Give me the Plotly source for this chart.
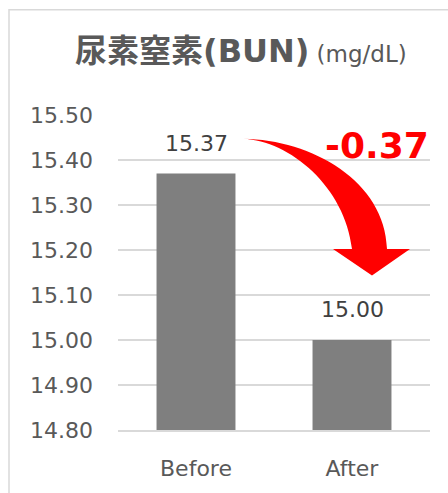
import plotly.graph_objects as go

categories = ["Before", "After"]
values = [15.37, 15.00]
value_labels = ["15.37", "15.00"]
change_label = "-0.37"
title_main = "尿素窒素"
title_abbr = "(BUN)"
title_unit = "(mg/dL)"
y_ticks = [14.80, 14.90, 15.00, 15.10, 15.20, 15.30, 15.40, 15.50]

W, H = 448, 493
L, R, T, B = 118, 18, 115, 58
PW, PH = W - L - R, H - T - B

def px(x, y):
    return ((x - L) / PW, (H - B - y) / PH)

fig = go.Figure()
fig.add_trace(go.Bar(
    x=list(range(len(categories))), y=values,
    marker=dict(color="#7f7f7f", line=dict(width=0)),
    width=0.506, hoverinfo="skip",
))

for i, (v, t) in enumerate(zip(values, value_labels)):
    fig.add_annotation(x=i, y=v, text=t, showarrow=False, yanchor="bottom",
                       yshift=16, font=dict(family="DejaVu Sans", size=22, color="#404040"))

# curved arrow (decoration) in pixel space -> paper
def P(x, y):
    a, b = px(x, y)
    return f"{a:.4f},{b:.4f}"

path = (f"M {P(243,139)} C {P(290,141)} {P(345,188)} {P(352,251)} "
        f"L {P(333,251)} L {P(372,278)} L {P(410,251)} L {P(387,251)} "
        f"C {P(385,182)} {P(312,140)} {P(243,139)} Z")
fig.add_shape(type="path", path=path, xref="paper", yref="paper",
              fillcolor="#ff0000", line=dict(width=0))

cx, cy = px(377, 146)
fig.add_annotation(x=cx, y=cy, xref="paper", yref="paper", text=f"<b>{change_label}</b>",
                   showarrow=False, xanchor="center", yanchor="middle",
                   font=dict(family="DejaVu Sans", size=36, color="#ff0000"))

tx, ty = px(241, 47)
fig.add_annotation(x=tx, y=ty, xref="paper", yref="paper",
                   text=(f"<b><span style='font-family:Noto Sans CJK JP'>{title_main}</span>"
                         f"<span style='font-family:DejaVu Sans'>{title_abbr}</span></b> "
                         f"<span style='font-size:23px;font-family:DejaVu Sans'>{title_unit}</span>"),
                   showarrow=False, xanchor="center", yanchor="middle",
                   font=dict(family="Noto Sans CJK JP", size=32, color="#595959"))

# outer chart border (left and top edges only are visible in the frame)
x0, y0 = px(9, 900)
x1, y1 = px(900, 8)
fig.add_shape(type="rect", xref="paper", yref="paper", x0=x0, y0=y0, x1=x1, y1=y1,
              line=dict(color="#d9d9d9", width=1.5), fillcolor="rgba(0,0,0,0)", layer="below")

fig.update_layout(
    width=W, height=H, margin=dict(l=L, r=R, t=T, b=B),
    paper_bgcolor="white", plot_bgcolor="white", showlegend=False,
    bargap=0.49,
    xaxis=dict(range=[-0.5, 1.5], tickvals=list(range(len(categories))), ticktext=categories,
               showgrid=False, zeroline=False, showline=True, linecolor="#d9d9d9", linewidth=1.5,
               ticks="", ticklabelstandoff=18,
               tickfont=dict(family="DejaVu Sans", size=22, color="#595959"), fixedrange=True),
    yaxis=dict(range=[14.8, 15.5], tickvals=y_ticks, tickformat=".2f",
               showgrid=True, gridcolor="#d9d9d9", gridwidth=1.5, zeroline=False, showline=False,
               ticks="", ticklabelstandoff=24,
               tickfont=dict(family="DejaVu Sans", size=22, color="#595959"), fixedrange=True),
)

fig.write_html("out.html", config={"displayModeBar": False})
